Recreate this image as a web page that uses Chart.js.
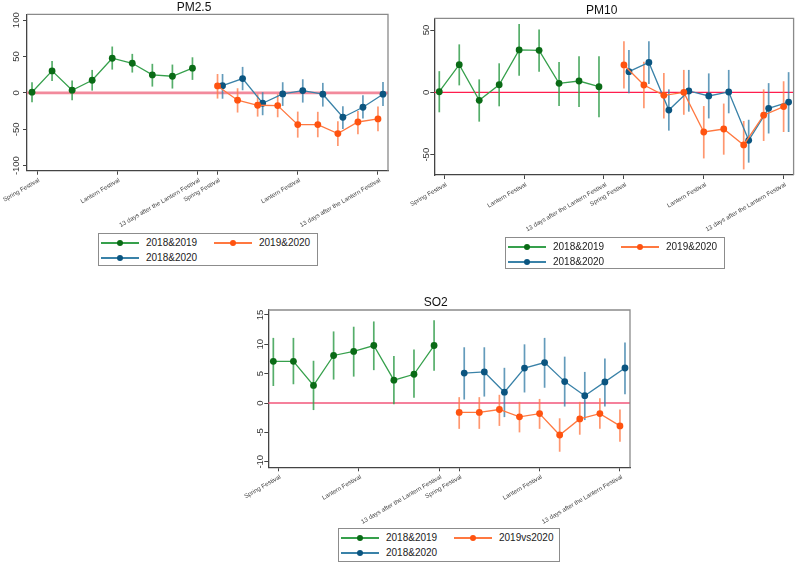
<!DOCTYPE html>
<html>
<head>
<meta charset="utf-8">
<script src="https://cdn.jsdelivr.net/npm/chart.js@4.4.1/dist/chart.umd.min.js"></script>
<style>
    body { margin: 0; background: #fff; width: 797px; height: 563px; position: relative; overflow: hidden; }
    canvas { position: absolute; }
    .legend { position: absolute; border: 1px solid #8c8c8c; background: #fff; box-sizing: border-box;
              font: 10px "Liberation Sans", Arial, sans-serif; color: #222; }
    .item { position: absolute; height: 10px; width: 110px; }
    .item .ln { position: absolute; left: 0; top: 4px; width: 38px; height: 1.5px; }
    .item .dot { position: absolute; left: 16px; top: 1.8px; width: 6.4px; height: 6.4px; border-radius: 50%; }
    .item .tx { position: absolute; left: 45px; top: -1px; white-space: nowrap; }
</style>
</head>
<body>
<canvas id="pm25" width="395" height="235" style="left:0;top:0"></canvas>
<canvas id="pm10" width="399" height="235" style="left:398px;top:0"></canvas>
<canvas id="so2" width="440" height="245" style="left:200px;top:290px"></canvas>
<div id="legend-pm25" class="legend" style="left:98px;top:233px;width:220px;height:33px"></div>
<div id="legend-pm10" class="legend" style="left:505px;top:237px;width:220px;height:32px"></div>
<div id="legend-so2" class="legend" style="left:338px;top:528px;width:222px;height:34px"></div>

<script>
// Eixo x: dias de cada grupo e rótulos
const days = [0, 1, 2, 3, 4, 5, 6, 7, 8];
const tickDays = [0, 4, 8];
const tickLabels = ['Spring Festival', 'Lantern Festival', '13 days after the Lantern Festival'];

// Nomes das séries
const seriesNames = ['2018&2019', '2019&2020', '2018&2020'];
const so2SeriesNames = ['2018&2019', '2019vs2020', '2018&2020'];

// PM2.5
const pm25Ticks = [-100, -50, 0, 50, 100];
const pm25Green = [1, 30.3, 3.7, 17.4, 47.7, 40.8, 24.8, 22.9, 34];
const pm25GreenLo = [-12.8, 16.5, -10, 3.2, 32.1, 28, 8.7, 6, 17.9];
const pm25GreenHi = [14.7, 44, 17, 31.6, 63.8, 53.7, 40, 39, 49];
const pm25Orange = [9.6, -10, -17, -17.4, -43.6, -43.6, -56, -40, -35.8];
const pm25OrangeLo = [-7.8, -27, -32.6, -33.5, -61.5, -61, -73, -57, -52.8];
const pm25OrangeHi = [26, 6.4, -1.8, -1.8, -25.7, -26, -39, -24.8, -18.8];
const pm25Blue = [10, 19.7, -14.2, -1.4, 3.2, -1.8, -33.5, -19.7, -1.8];
const pm25BlueLo = [-8, 3.7, -30.7, -17.9, -13.3, -18.8, -49.5, -35.3, -17.9];
const pm25BlueHi = [26, 35.8, 1, 14.7, 18.8, 13.8, -18.3, -3.2, 15];

// PM10
const pm10Ticks = [-50, 0, 50];
const pm10Green = [0.5, 22.2, -6.4, 6.1, 34, 33.7, 7.2, 9.1, 4.5];
const pm10GreenLo = [-16, 5.6, -23.5, -11.2, 13.4, 16.6, -11, -11.8, -20];
const pm10GreenHi = [17, 38.5, 10.4, 23.3, 54.8, 50.5, 24.3, 29, 28.9];
const pm10Orange = [22, 5.9, -2.4, 0, -31.8, -29.4, -42.2, -18.3, -11.4];
const pm10OrangeLo = [3, -12.8, -20.9, -18, -53, -50, -61.8, -39, -31.8];
const pm10OrangeHi = [41, 24.6, 15.5, 18, -11, -9, -23, 2.4, 8.9];
const pm10Blue = [16.6, 24, -14.2, 1.1, -2.9, 0.3, -38.5, -12.8, -7.8];
const pm10BlueLo = [-0.8, 6.7, -30.7, -15.5, -20.9, -16.8, -56.4, -33, -31.8];
const pm10BlueHi = [34, 41, 2.4, 18, 15.2, 18, -22, 7.4, 16.2];

// SO2
const so2Ticks = [-10, -5, 0, 5, 10, 15];
const so2Green = [7.1, 7.1, 3, 8.1, 8.8, 9.8, 3.9, 4.9, 9.8];
const so2GreenLo = [2.9, 3.2, -1.2, 4, 4.5, 5.6, -0.2, 0.9, 5.5];
const so2GreenHi = [11.1, 11.1, 7.2, 12.2, 13, 13.9, 8, 9.1, 14.1];
const so2Orange = [-1.6, -1.6, -1.1, -2.35, -1.8, -5.45, -2.7, -1.8, -3.9];
const so2OrangeLo = [-4.4, -4.4, -3.9, -5, -4.4, -8.3, -5.4, -4.4, -6.6];
const so2OrangeHi = [1, 1, 1.4, 0.2, 0.7, -2.6, 0.2, 0.8, -1.1];
const so2Blue = [5.1, 5.3, 1.85, 5.95, 6.9, 3.65, 1.25, 3.6, 5.97];
const so2BlueLo = [0.6, 1.1, -2.4, 1.8, 2.6, -0.6, -2.9, -0.6, 1.5];
const so2BlueHi = [9.5, 9.5, 6, 10, 11.1, 7.9, 5.3, 7.6, 10.3];

// Cores (marcador, linha, barra de erro)
const greenStyle = { marker: '#0a6b16', line: '#36a04c', bar: 'rgba(55,160,80,0.85)' };
const orangeStyle = { marker: '#ff5310', line: '#ff7840', bar: 'rgba(255,125,75,0.8)' };
const blueStyle = { marker: '#0b5580', line: '#3a82a8', bar: 'rgba(60,130,170,0.8)' };

Chart.defaults.font.family = '"Liberation Sans", Arial, sans-serif';

// Plugin: linha zero, barras de erro e moldura da área do gráfico
const errorBarPlugin = {
    id: 'errorBars',
    beforeDatasetsDraw(chart, args, opts) {
        const ctx = chart.ctx;
        const xs = chart.scales.x;
        const ys = chart.scales.y;
        const area = chart.chartArea;

        // Linha de referência em y = 0
        ctx.save();
        ctx.strokeStyle = opts.zeroColor;
        ctx.lineWidth = opts.zeroWidth;
        const y0 = ys.getPixelForValue(0);
        ctx.beginPath();
        ctx.moveTo(area.left, y0);
        ctx.lineTo(area.right, y0);
        ctx.stroke();

        // Barras de erro (intervalos)
        chart.data.datasets.forEach(ds => {
            ctx.strokeStyle = ds.barColor;
            ctx.lineWidth = 1.7;
            ds.data.forEach((pt, i) => {
                const px = xs.getPixelForValue(pt.x);
                ctx.beginPath();
                ctx.moveTo(px, ys.getPixelForValue(ds.errLo[i]));
                ctx.lineTo(px, ys.getPixelForValue(ds.errHi[i]));
                ctx.stroke();
            });
        });
        ctx.restore();
    },
    afterDraw(chart) {
        const ctx = chart.ctx;
        const area = chart.chartArea;
        ctx.save();
        ctx.strokeStyle = '#8a8a8a';
        ctx.lineWidth = 1.3;
        ctx.beginPath();
        ctx.moveTo(area.left, area.top);
        ctx.lineTo(area.right, area.top);
        ctx.lineTo(area.right, area.bottom);
        ctx.stroke();
        ctx.restore();
    }
};

// Monta uma série (pontos + intervalo)
function makeSeries(values, lo, hi, base, offset, style) {
    return {
        data: days.map((d, i) => ({ x: base + d + offset, y: values[i] })),
        errLo: lo,
        errHi: hi,
        barColor: style.bar,
        borderColor: style.line,
        borderWidth: 1.3,
        pointRadius: 3.4,
        pointBorderWidth: 0,
        pointBackgroundColor: style.marker,
        pointHoverRadius: 3.4
    };
}

// Cria um painel
function renderPanel(id, title, yMin, yMax, yTicks, series, layout, zero) {
    const tickPositions = [];
    [0, 9].forEach(base => tickDays.forEach(d => tickPositions.push(base + d)));

    new Chart(document.getElementById(id), {
        type: 'line',
        data: { datasets: series },
        plugins: [errorBarPlugin],
        options: {
            responsive: false,
            animation: false,
            layout: { padding: layout.padding },
            plugins: {
                legend: { display: false },
                tooltip: { enabled: false },
                title: {
                    display: true,
                    text: title,
                    color: '#111',
                    font: { size: 12, weight: 'normal' },
                    padding: { top: 0, bottom: 0 }
                },
                errorBars: zero
            },
            scales: {
                x: {
                    type: 'linear',
                    min: -0.5,
                    max: 17.5,
                    afterBuildTicks: s => { s.ticks = tickPositions.map(v => ({ value: v })); },
                    afterFit: s => { s.height = layout.xHeight; s.paddingLeft = 0; s.paddingRight = 0; },
                    ticks: {
                        autoSkip: false,
                        minRotation: 30,
                        maxRotation: 30,
                        padding: 2,
                        labelOffset: 2,
                        color: '#444',
                        font: { size: 6.2 },
                        callback: (v, i) => tickLabels[i % 3]
                    },
                    grid: { display: true, drawOnChartArea: false, tickLength: 4, color: '#444' },
                    border: { color: '#444', width: 1.3 }
                },
                y: {
                    min: yMin,
                    max: yMax,
                    afterBuildTicks: s => { s.ticks = yTicks.map(v => ({ value: v })); },
                    afterFit: s => { s.width = 27; s.paddingTop = 0; s.paddingBottom = 0; },
                    ticks: {
                        minRotation: 90,
                        maxRotation: 90,
                        crossAlign: 'center',
                        padding: -3,
                        color: '#333',
                        font: { size: 9.5 }
                    },
                    grid: { display: true, drawOnChartArea: false, tickLength: 4, color: '#444' },
                    border: { color: '#444', width: 1.3 }
                }
            }
        }
    });
}

// Legenda em HTML
function renderLegend(id, names) {
    const styles = [greenStyle, orangeStyle, blueStyle];
    const spots = [[2, 9], [115, 9], [2, 24]];
    const box = document.getElementById(id);
    names.forEach((name, i) => {
        box.innerHTML += `
            <div class="item" style="left:${spots[i][0]}px;top:${spots[i][1] - 5}px">
                <div class="ln" style="background:${styles[i].line}"></div>
                <div class="dot" style="background:${styles[i].marker}"></div>
                <div class="tx">${name}</div>
            </div>`;
    });
}

renderPanel('pm25', 'PM2.5', -107, 108, pm25Ticks, [
    makeSeries(pm25Green, pm25GreenLo, pm25GreenHi, 0, -0.25, greenStyle),
    makeSeries(pm25Orange, pm25OrangeLo, pm25OrangeHi, 9, 0, orangeStyle),
    makeSeries(pm25Blue, pm25BlueLo, pm25BlueHi, 9, 0.25, blueStyle)
], { padding: { top: 0, left: 0, right: 7, bottom: 0 }, xHeight: 64.3 },
   { zeroColor: '#f28a9c', zeroWidth: 2.6 });

renderPanel('pm10', 'PM10', -66.3, 59.4, pm10Ticks, [
    makeSeries(pm10Green, pm10GreenLo, pm10GreenHi, 0, -0.25, greenStyle),
    makeSeries(pm10Orange, pm10OrangeLo, pm10OrangeHi, 9, 0, orangeStyle),
    makeSeries(pm10Blue, pm10BlueLo, pm10BlueHi, 9, 0.25, blueStyle)
], { padding: { top: 3.9, left: 9.3, right: 1, bottom: 0 }, xHeight: 60 },
   { zeroColor: '#ff1d4e', zeroWidth: 1.4 });

renderPanel('so2', 'SO2', -10.95, 15.85, so2Ticks, [
    makeSeries(so2Green, so2GreenLo, so2GreenHi, 0, -0.25, greenStyle),
    makeSeries(so2Orange, so2OrangeLo, so2OrangeHi, 9, 0, orangeStyle),
    makeSeries(so2Blue, so2BlueLo, so2BlueHi, 9, 0.25, blueStyle)
], { padding: { top: 5.6, left: 41.3, right: 10, bottom: 0 }, xHeight: 67.7 },
   { zeroColor: '#f2567a', zeroWidth: 1.4 });

renderLegend('legend-pm25', seriesNames);
renderLegend('legend-pm10', seriesNames);
renderLegend('legend-so2', so2SeriesNames);
</script>
</body>
</html>
